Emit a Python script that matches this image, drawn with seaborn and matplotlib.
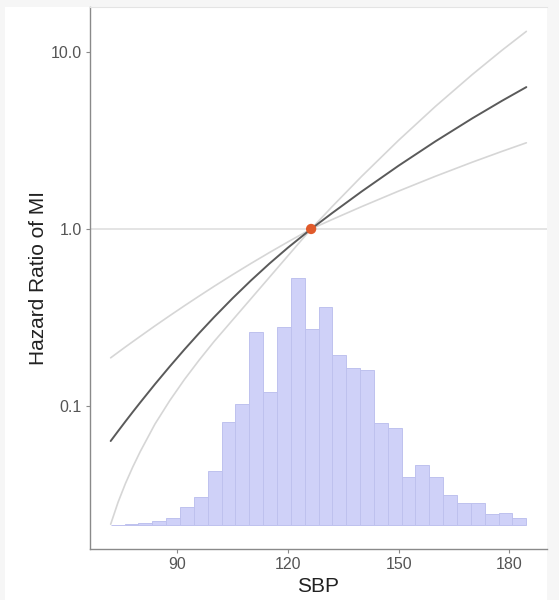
import numpy as np
import pandas as pd
import matplotlib
matplotlib.use("Agg")
import matplotlib.pyplot as plt
import seaborn as sns
from matplotlib.patches import Rectangle

# ---- data ----
sbp = [72, 74, 76, 78, 80, 84, 88, 92, 96, 100, 105, 110, 115, 120, 126.3,
       132, 140, 150, 160, 170, 178, 184.6]
hr_center = [0.06339, 0.07206, 0.08178, 0.09260, 0.1046, 0.1328, 0.1671,
             0.2087, 0.2584, 0.3173, 0.4055, 0.5116, 0.6373, 0.7837, 1.0,
             1.230, 1.629, 2.278, 3.129, 4.222, 5.297, 6.332]
hr_upper = [0.1871, 0.2009, 0.2156, 0.2310, 0.2474, 0.2835, 0.3236, 0.3685,
            0.4183, 0.4739, 0.5513, 0.6385, 0.7359, 0.8448, 1.0,
            1.338, 1.984, 3.170, 4.931, 7.469, 10.22, 13.07]
hr_lower = [0.02148, 0.02858, 0.03648, 0.04529, 0.05521, 0.07907, 0.1072,
            0.1413, 0.1820, 0.2312, 0.3055, 0.4036, 0.5333, 0.7047, 1.0,
            1.131, 1.338, 1.637, 1.986, 2.386, 2.744, 3.068]

ref_sbp = [126.3]
ref_hr = [1.0]

hist_left = [72.00, 75.75, 79.51, 83.26, 87.01, 90.77, 94.52, 98.27, 102.03,
             105.78, 109.53, 113.29, 117.04, 120.79, 124.55, 128.30, 132.05,
             135.81, 139.56, 143.31, 147.07, 150.82, 154.57, 158.33, 162.08,
             165.83, 169.59, 173.34, 177.09, 180.85]
hist_width = 3.753
hist_base = 0.0213
hist_top = [0.0213, 0.02145, 0.02169, 0.02226, 0.02323, 0.02670, 0.03079,
            0.04292, 0.08147, 0.1029, 0.2618, 0.1207, 0.2779, 0.5277, 0.2733,
            0.3602, 0.1933, 0.1633, 0.1591, 0.0797, 0.0747, 0.0399, 0.0466,
            0.0399, 0.03145, 0.02823, 0.02823, 0.02438, 0.02470, 0.02314]

y_ticks = [0.1, 1.0, 10.0]
y_ticklabels = ["0.1", "1.0", "10.0"]
x_ticks = [90, 120, 150, 180]

# ---- style ----
sns.set_style("white")
plt.rcParams["font.family"] = ["Liberation Sans", "DejaVu Sans"]

fig = plt.figure(figsize=(5.59, 6.0), dpi=100)
fig.patch.set_facecolor("#f6f6f6")
fig.add_artist(Rectangle((5 / 559, 0), (547 - 5) / 559, (600 - 7) / 600,
                         transform=fig.transFigure, facecolor="white",
                         edgecolor="none", zorder=-10))
ax = fig.add_axes([90 / 559, 1 - 549 / 600, (547 - 90) / 559, (549 - 7) / 600])
ax.set_facecolor("white")

ax.set_yscale("log")

# histogram of SBP distribution
heights = [t - hist_base for t in hist_top]
ax.bar(hist_left, heights, width=hist_width, bottom=hist_base, align="edge",
       color="#cfd1f8", edgecolor="#bec1ee", linewidth=0.7, zorder=1)

# reference line
ax.axhline(1.0, color="#e2e2e2", linewidth=1.3, zorder=0.5)

df = pd.DataFrame({"SBP": sbp, "center": hr_center,
                   "upper": hr_upper, "lower": hr_lower})
sns.lineplot(data=df, x="SBP", y="upper", ax=ax, color="#d6d6d6",
             linewidth=1.2, zorder=2, errorbar=None)
sns.lineplot(data=df, x="SBP", y="lower", ax=ax, color="#d6d6d6",
             linewidth=1.2, zorder=2, errorbar=None)
sns.lineplot(data=df, x="SBP", y="center", ax=ax, color="#5a5a5a",
             linewidth=1.4, zorder=3, errorbar=None)
sns.scatterplot(x=ref_sbp, y=ref_hr, ax=ax, color="#e05a2b", s=55,
                edgecolor="none", zorder=4)

ax.set_xlim(66.4, 190.2)
ax.set_ylim(0.01556, 17.95)
ax.set_xticks(x_ticks)
ax.set_xticklabels([str(v) for v in x_ticks])
ax.set_yticks(y_ticks)
ax.set_yticklabels(y_ticklabels)
ax.yaxis.set_minor_locator(matplotlib.ticker.NullLocator())

ax.tick_params(axis="both", which="major", length=3, width=0.8,
               color="#8a8a8a", labelsize=11.5, labelcolor="#555555", pad=3,
               left=True, bottom=True)

ax.set_xlabel("SBP", fontsize=15, color="#222222", labelpad=3)
ax.set_ylabel("Hazard Ratio of MI", fontsize=15, color="#222222", labelpad=2)

for side in ["left", "bottom"]:
    ax.spines[side].set_color("#8a8a8a")
    ax.spines[side].set_linewidth(1.0)
ax.spines["top"].set_color("#e4e4e4")
ax.spines["top"].set_linewidth(0.8)
ax.spines["right"].set_visible(False)

fig.savefig("out.png", dpi=100, facecolor=fig.get_facecolor())
